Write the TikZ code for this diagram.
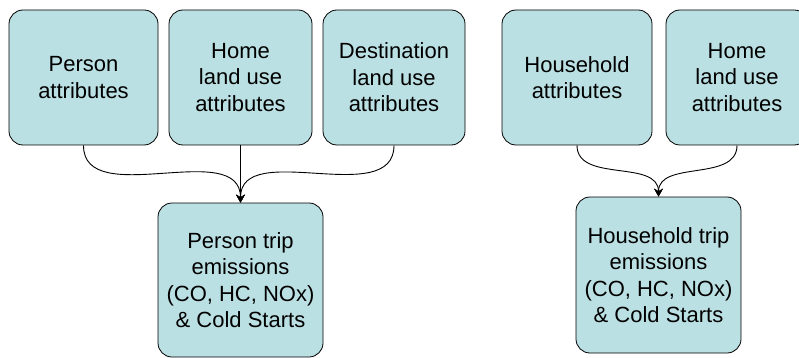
\documentclass[tikz,border=0pt]{standalone}
\usepackage{fontspec}
\setmainfont{Liberation Sans}
\usetikzlibrary{arrows.meta}
\definecolor{boxfill}{RGB}{187,224,227}
\begin{document}
\begin{tikzpicture}[x=1pt,y=-1pt,
	attrbox/.style={draw,line width=0.8pt,fill=boxfill,rounded corners=14pt,align=center,
		inner sep=0pt,minimum height=135pt,font=\fontsize{22}{26.5}\selectfont},
	link/.style={line width=0.9pt,-{Stealth[length=8pt,width=9pt]}}]
			\clip (0,0) rectangle (799,358);
			% person trip model
			\node[attrbox,minimum width=149pt] (pa) at (83.5,77.5) {Person\\attributes};
			\node[attrbox,minimum width=143pt] (pl) at (240.5,77.5) {Home\\land use\\attributes};
			\node[attrbox,minimum width=142pt] (pd) at (394,77.5) {Destination\\land use\\attributes};
			\node[attrbox,minimum width=165pt,minimum height=154pt] (pt) at (240.5,280) {Person trip\\emissions\\(CO, HC, NOx)\\\& Cold Starts};
			\draw[link] (pa.south) to[out=-90,in=90] (pt.north);
			\draw[link] (pd.south) to[out=-90,in=90] (pt.north);
			\draw[link] (pl.south) -- (pt.north);
			% household trip model
			\node[attrbox,minimum width=150pt] (ha) at (577,77.5) {Household\\attributes};
			\node[attrbox,minimum width=142pt] (hl) at (737,77.5) {Home\\land use\\attributes};
			\node[attrbox,minimum width=165pt,minimum height=156pt] (ht) at (658.5,275) {Household trip\\emissions\\(CO, HC, NOx)\\\& Cold Starts};
			\draw[link] (ha.south) to[out=-90,in=90] (ht.north);
			\draw[link] (hl.south) to[out=-90,in=90] (ht.north);
\end{tikzpicture}
\end{document}
